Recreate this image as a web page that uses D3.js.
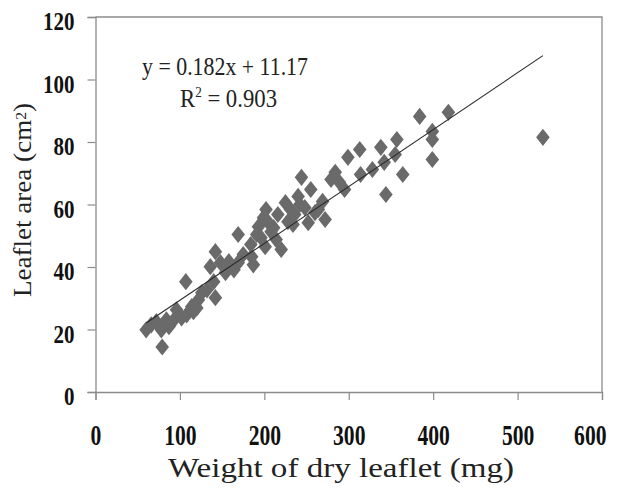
<!DOCTYPE html>
<html>
<head>
<meta charset="utf-8">
<script src="https://cdn.jsdelivr.net/npm/d3@7"></script>
<style>
  body { margin: 0; background: #fff; }
  svg { display: block; }
</style>
</head>
<body>
<div id="chart"></div>
<script>
// leaflet dry weight (mg) vs leaflet area (cm2)
const weight = [60, 66, 78, 79, 84, 93, 96, 107, 108, 114, 120, 122, 126, 136, 140, 142, 142, 148, 154, 164,
  169, 169, 184, 185, 187, 193, 196, 199, 201, 205, 208, 214, 220, 225, 228, 234, 240, 244, 248, 252,
  255, 260, 264, 269, 272, 279, 284, 289, 295, 299, 313, 314, 328, 338, 342, 344, 357, 355, 364, 384,
  418, 399, 399, 399, 530,
  72, 87, 102, 116, 132, 158, 175, 191, 202, 211, 216, 231, 236, 242];
const area = [19.9, 21.5, 19.9, 14.4, 23.1, 23.1, 26.3, 35.3, 24.7, 27.3, 26.9, 29.5, 31.8, 40.1, 35.3, 44.9, 30.2, 41.4, 38.2, 39.1,
  41.4, 50.4, 47.2, 43.3, 40.7, 52.9, 49.4, 55.8, 46.5, 54.2, 51.3, 48.8, 45.6, 60.6, 54.5, 53.6, 62.6, 68.7, 59.0, 54.2,
  64.8, 57.4, 58.4, 61.0, 55.2, 68.0, 70.3, 67.1, 64.8, 75.1, 77.6, 69.6, 71.2, 78.3, 73.5, 63.2, 80.8, 76.0, 69.6, 88.2,
  89.5, 83.4, 80.8, 74.4, 81.5,
  22.5, 20.9, 23.7, 25.7, 32.7, 41.7, 44.0, 50.4, 58.4, 52.6, 56.8, 58.4, 56.8, 60.0];

// fitted line y = 0.182x + 11.17
const slope = 0.182;
const intercept = 11.17;
const xTicks = [0, 100, 200, 300, 400, 500, 600];
const yTicks = [0, 20, 40, 60, 80, 100, 120];

const width = 622, height = 488;
const margin = {top: 17, right: 20, bottom: 96, left: 95.5};

const svg = d3.select("#chart").append("svg")
    .attr("width", width)
    .attr("height", height);

const x = d3.scaleLinear().domain([0, 600]).range([margin.left, width - margin.right]);
const y = d3.scaleLinear().domain([0, 120]).range([height - margin.bottom, margin.top]);

const axisColor = "#8c8c8c";
const serif = "'Liberation Serif', 'DejaVu Serif', serif";

// frame top + right
svg.append("path")
    .attr("d", "M" + x(0) + "," + y(120) + "H" + x(600) + "V" + y(0))
    .attr("fill", "none")
    .attr("stroke", axisColor)
    .attr("stroke-width", 1.3);

// Y axis
const yAxis = svg.append("g")
    .attr("transform", "translate(" + x(0) + ",0)")
    .call(d3.axisLeft(y).tickValues(yTicks).tickSize(8).tickPadding(13));
yAxis.select(".domain").attr("stroke", axisColor).attr("stroke-width", 1.3);
yAxis.selectAll(".tick line").attr("stroke", axisColor).attr("stroke-width", 1.2);
yAxis.selectAll(".tick text")
    .attr("font-family", serif)
    .attr("font-weight", "bold")
    .attr("font-size", 25)
    .attr("fill", "#111")
    .attr("dy", "0.5em")
    .attr("textLength", d => String(d).length * 10.5)
    .attr("lengthAdjust", "spacingAndGlyphs");

// X axis
const xAxis = svg.append("g")
    .attr("transform", "translate(0," + y(0) + ")")
    .call(d3.axisBottom(x).tickValues(xTicks).tickSize(8).tickPadding(24));
xAxis.select(".domain").attr("stroke", axisColor).attr("stroke-width", 1.3);
xAxis.selectAll(".tick line").attr("stroke", axisColor).attr("stroke-width", 1.2);
xAxis.selectAll(".tick text")
    .attr("font-family", serif)
    .attr("font-weight", "bold")
    .attr("font-size", 29)
    .attr("fill", "#111")
    .attr("textLength", d => String(d).length * 10.8)
    .attr("lengthAdjust", "spacingAndGlyphs");
// last label sits just inside the page edge
xAxis.selectAll(".tick text")
    .filter(d => d === 600)
    .attr("text-anchor", "end")
    .attr("x", 4);

// points as diamonds
const pts = weight.map((w, i) => ({w: w, a: area[i]}));
const dw = 6.8, dh = 8.6;
svg.append("g")
    .selectAll("path")
    .data(pts)
    .enter()
    .append("path")
    .attr("d", function(d) {
        const cx = x(d.w), cy = y(d.a);
        return "M" + cx + "," + (cy - dh) + "L" + (cx + dw) + "," + cy +
            "L" + cx + "," + (cy + dh) + "L" + (cx - dw) + "," + cy + "Z";
    })
    .attr("fill", "#6a6a6a");

// trend line over the data range
const xMin = d3.min(weight), xMax = d3.max(weight);
svg.append("line")
    .attr("x1", x(xMin)).attr("y1", y(slope * xMin + intercept))
    .attr("x2", x(xMax)).attr("y2", y(slope * xMax + intercept))
    .attr("stroke", "#2a2a2a")
    .attr("stroke-width", 1.1);

// equation
svg.append("text")
    .attr("x", 142).attr("y", 75)
    .attr("font-family", serif)
    .attr("font-size", 26)
    .attr("fill", "#222")
    .attr("textLength", 166)
    .attr("lengthAdjust", "spacingAndGlyphs")
    .text("y = 0.182x + 11.17");

const r2 = svg.append("text")
    .attr("x", 180).attr("y", 107)
    .attr("font-family", serif)
    .attr("font-size", 26)
    .attr("fill", "#222")
    .attr("textLength", 97)
    .attr("lengthAdjust", "spacingAndGlyphs");
r2.append("tspan").text("R");
r2.append("tspan").attr("font-size", 15).attr("dy", -10).text("2");
r2.append("tspan").attr("dy", 10).text(" = 0.903");

// axis titles
svg.append("text")
    .attr("x", 341).attr("y", 477)
    .attr("text-anchor", "middle")
    .attr("font-family", serif)
    .attr("font-size", 27)
    .attr("fill", "#222")
    .attr("textLength", 346)
    .attr("lengthAdjust", "spacingAndGlyphs")
    .text("Weight of dry leaflet (mg)");

const yt = svg.append("text")
    .attr("transform", "translate(31,200) rotate(-90)")
    .attr("text-anchor", "middle")
    .attr("font-family", serif)
    .attr("font-size", 26)
    .attr("fill", "#222")
    .attr("textLength", 194)
    .attr("lengthAdjust", "spacingAndGlyphs");
yt.append("tspan").text("Leaflet area (cm");
yt.append("tspan").attr("font-size", 15).attr("dy", -5).text("2");
yt.append("tspan").attr("dy", 5).text(")");
</script>
</body>
</html>
